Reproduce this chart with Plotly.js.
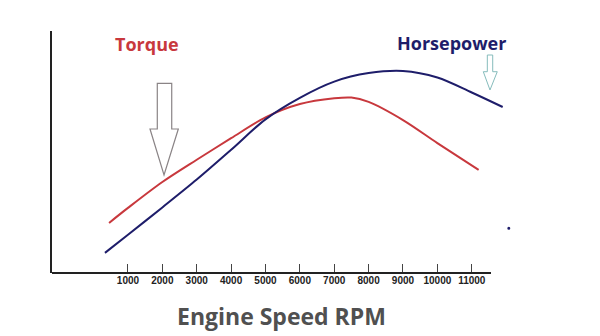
<!DOCTYPE html>
<html>
<head>
<meta charset="utf-8">
<script src="https://cdn.plot.ly/plotly-3.0.1.min.js"></script>
<style>html,body{margin:0;padding:0;background:#fff;}#chart{width:600px;height:336px;}</style>
</head>
<body>
<div id="chart"></div>
<script>
// Data (rpm vs relative output)
const torqueRpm = [450, 1000, 2000, 3000, 4000, 5000, 6000, 7000, 7500, 8000, 9000, 10000, 11200];
const torqueVal = [20.7, 26.9, 37.6, 46.8, 55.7, 64.3, 69.8, 72.2, 72.5, 70.7, 63.2, 53.7, 42.6];
const hpRpm = [330, 1000, 2000, 3000, 4000, 5000, 6000, 7000, 8000, 9000, 10000, 11000, 11900];
const hpVal = [8.3, 15.8, 27.1, 38.6, 50.9, 63.5, 72.4, 79.1, 82.6, 83.5, 80.8, 74.6, 68.6];
const tickValues = [1000, 2000, 3000, 4000, 5000, 6000, 7000, 8000, 9000, 10000, 11000];
const tickLabels = ["1000", "2000", "3000", "4000", "5000", "6000", "7000", "8000", "9000", "10000", "11000"];

const L = 52, T = 31, W = 461, H = 242;
const px = x => (x - L) / W;
const py = y => (T + H - y) / H;
function arrowPath(sx0, sx1, top, hx0, hx1, headY, tipX, tipY) {
  const p = [[sx0, top], [sx1, top], [sx1, headY], [hx1, headY], [tipX, tipY], [hx0, headY], [sx0, headY]];
  return 'M' + p.map(q => px(q[0]).toFixed(4) + ',' + py(q[1]).toFixed(4)).join(' L') + ' Z';
}

const traces = [
  {x: torqueRpm, y: torqueVal, type: 'scatter', mode: 'lines', name: 'Torque',
   line: {color: '#c8383d', width: 2, shape: 'spline', smoothing: 0.9}},
  {x: hpRpm, y: hpVal, type: 'scatter', mode: 'lines', name: 'Horsepower',
   line: {color: '#1e1d6a', width: 2, shape: 'spline', smoothing: 0.9}}
];

const layout = {
  width: 600, height: 336,
  margin: {l: L, r: 600 - L - W, t: T, b: 336 - T - H, pad: 0},
  paper_bgcolor: '#ffffff', plot_bgcolor: '#ffffff',
  showlegend: false,
  xaxis: {range: [-1210, 12200], showgrid: false, zeroline: false, showline: false,
    tickvals: tickValues, ticktext: tickLabels, ticks: 'inside', ticklen: 9, tickwidth: 1,
    tickcolor: '#444', tickfont: {family: 'Liberation Sans, Arial', size: 10, color: '#222', weight: 'bold'},
    fixedrange: true},
  yaxis: {range: [0, 100], showgrid: false, zeroline: false, showline: true, linewidth: 2,
    linecolor: '#222', showticklabels: false, ticks: '', fixedrange: true},
  shapes: [
    {type: 'line', xref: 'paper', yref: 'paper', x0: px(52), x1: px(491), y0: py(273), y1: py(273),
     line: {color: '#222', width: 2}},
    {type: 'path', xref: 'paper', yref: 'paper',
     path: arrowPath(157.3, 171.7, 83.3, 150, 178.3, 129, 164, 175),
     line: {color: '#8a8486', width: 1.2}, fillcolor: 'rgba(255,255,255,0)'},
    {type: 'path', xref: 'paper', yref: 'paper',
     path: arrowPath(487.3, 492.7, 55, 483.3, 497.3, 71.7, 490, 90),
     line: {color: '#86bcbc', width: 1}, fillcolor: 'rgba(255,255,255,0)'},
    {type: 'circle', xref: 'paper', yref: 'paper', x0: px(507.3), x1: px(510.3), y0: py(229.8), y1: py(226.8),
     line: {color: '#1e1d6a', width: 0}, fillcolor: '#1e1d6a'}
  ],
  annotations: [
    {text: '<b>Torque</b>', xref: 'paper', yref: 'paper', x: px(146.5), y: py(43.5),
     xanchor: 'center', yanchor: 'middle', showarrow: false,
     font: {family: 'Open Sans, sans-serif', size: 18, color: '#c8383d'}},
    {text: '<b>Horsepower</b>', xref: 'paper', yref: 'paper', x: px(451.5), y: py(43),
     xanchor: 'center', yanchor: 'middle', showarrow: false,
     font: {family: 'Open Sans, sans-serif', size: 18, color: '#1e1d6a'}},
    {text: '<b>Engine Speed RPM</b>', xref: 'paper', yref: 'paper', x: px(281), y: py(316),
     xanchor: 'center', yanchor: 'middle', showarrow: false,
     font: {family: 'Open Sans, sans-serif', size: 23, color: '#505050'}}
  ]
};

Plotly.newPlot('chart', traces, layout, {staticPlot: true, displayModeBar: false});
</script>
</body>
</html>
